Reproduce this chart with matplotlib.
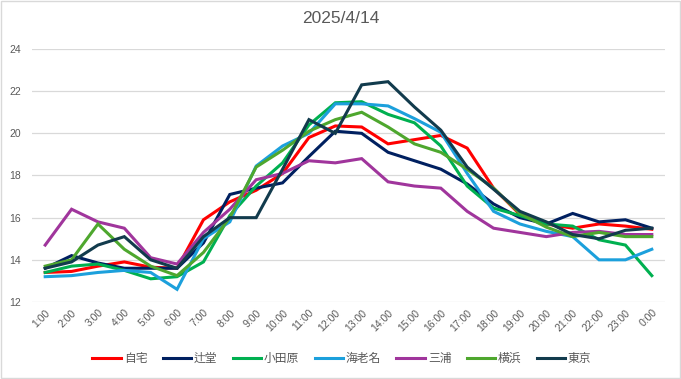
import matplotlib
matplotlib.use("Agg")
import matplotlib.pyplot as plt
from matplotlib.patches import Rectangle

plt.rcParams['font.family'] = ['Liberation Sans', 'Noto Sans CJK JP', 'DejaVu Sans']

title = "2025/4/14"
hours = ["%d:00" % h for h in range(1, 24)] + ["0:00"]

# temperature per station, 1:00 .. 0:00
jitaku = [13.4, 13.45, 13.7, 13.9, 13.65, 13.6, 15.9, 16.75, 17.3, 18.1, 19.8, 20.35,
          20.3, 19.5, 19.7, 19.9, 19.3, 17.4, 16.15, 15.7, 15.5, 15.7, 15.6, 15.45]
tsujido = [13.6, 14.2, 13.85, 13.6, 13.6, 13.6, 14.8, 17.1, 17.4, 17.65, 18.9, 20.1,
           20.0, 19.1, 18.7, 18.3, 17.6, 16.65, 16.0, 15.7, 16.2, 15.8, 15.9, 15.5]
odawara = [13.4, 13.7, 13.8, 13.5, 13.1, 13.2, 13.9, 16.1, 17.5, 18.6, 20.4, 21.45,
           21.5, 20.9, 20.5, 19.4, 17.5, 16.45, 16.1, 15.7, 15.6, 14.95, 14.7, 13.25]
ebina = [13.2, 13.25, 13.4, 13.5, 13.4, 12.6, 15.0, 15.8, 18.45, 19.4, 20.0, 21.4,
         21.4, 21.3, 20.7, 20.05, 18.1, 16.3, 15.7, 15.35, 15.1, 14.0, 14.0, 14.5]
miura = [14.7, 16.4, 15.8, 15.5, 14.1, 13.8, 15.3, 16.4, 17.8, 18.1, 18.7, 18.6,
         18.8, 17.7, 17.5, 17.4, 16.3, 15.5, 15.3, 15.1, 15.3, 15.35, 15.2, 15.2]
yokohama = [13.7, 14.0, 15.7, 14.5, 13.7, 13.25, 14.35, 16.0, 18.4, 19.2, 20.1, 20.65,
            21.0, 20.3, 19.5, 19.1, 18.3, 17.4, 16.2, 15.55, 15.1, 15.3, 15.1, 15.1]
tokyo = [13.6, 13.9, 14.7, 15.1, 14.0, 13.6, 15.1, 16.0, 16.0, 18.3, 20.65, 20.0,
         22.3, 22.45, 21.25, 20.15, 18.4, 17.35, 16.3, 15.8, 15.2, 15.0, 15.4, 15.5]

series = [
    ("自宅", jitaku, "#FF0000"),
    ("辻堂", tsujido, "#002060"),
    ("小田原", odawara, "#00B050"),
    ("海老名", ebina, "#1CA0DC"),
    ("三浦", miura, "#A0359C"),
    ("横浜", yokohama, "#4EA72E"),
    ("東京", tokyo, "#123B4D"),
]

fig = plt.figure(figsize=(6.81, 3.79), dpi=100)
ax = fig.add_axes([0.047, 0.2032, 0.9295, 0.6675])

x = list(range(len(hours)))
for name, vals, col in series:
    ax.plot(x, vals, color=col, lw=2.2, label=name, solid_joinstyle='miter')

ax.set_xlim(-0.5, len(hours) - 0.5)
ax.set_ylim(12, 24)
ax.set_yticks(range(12, 25, 2))
ax.set_xticks(x)
ax.set_xticklabels(hours, rotation=45, ha='right', rotation_mode='anchor')
ax.tick_params(axis='both', length=0, labelsize=7.5, colors='#595959')
ax.tick_params(axis='y', pad=8)
ax.tick_params(axis='x', pad=4)
ax.grid(axis='y', color='#D9D9D9', lw=0.9)
ax.set_axisbelow(True)
for s in ax.spines.values():
    s.set_visible(False)

fig.text(0.5, 0.9525, title, ha='center', va='center', fontsize=12.5, color='#595959')

fig.legend(loc='center', bbox_to_anchor=(342 / 681, 0.0528), ncol=7, frameon=False,
           fontsize=8.5, handlelength=2.4, handletextpad=0.25, columnspacing=1.3,
           labelcolor='#595959')

fig.patches.append(Rectangle((0.001, 0.002), 0.997, 0.995, transform=fig.transFigure,
                             fill=False, edgecolor='#D9D9D9', lw=1))

fig.savefig("out.png", dpi=100)
